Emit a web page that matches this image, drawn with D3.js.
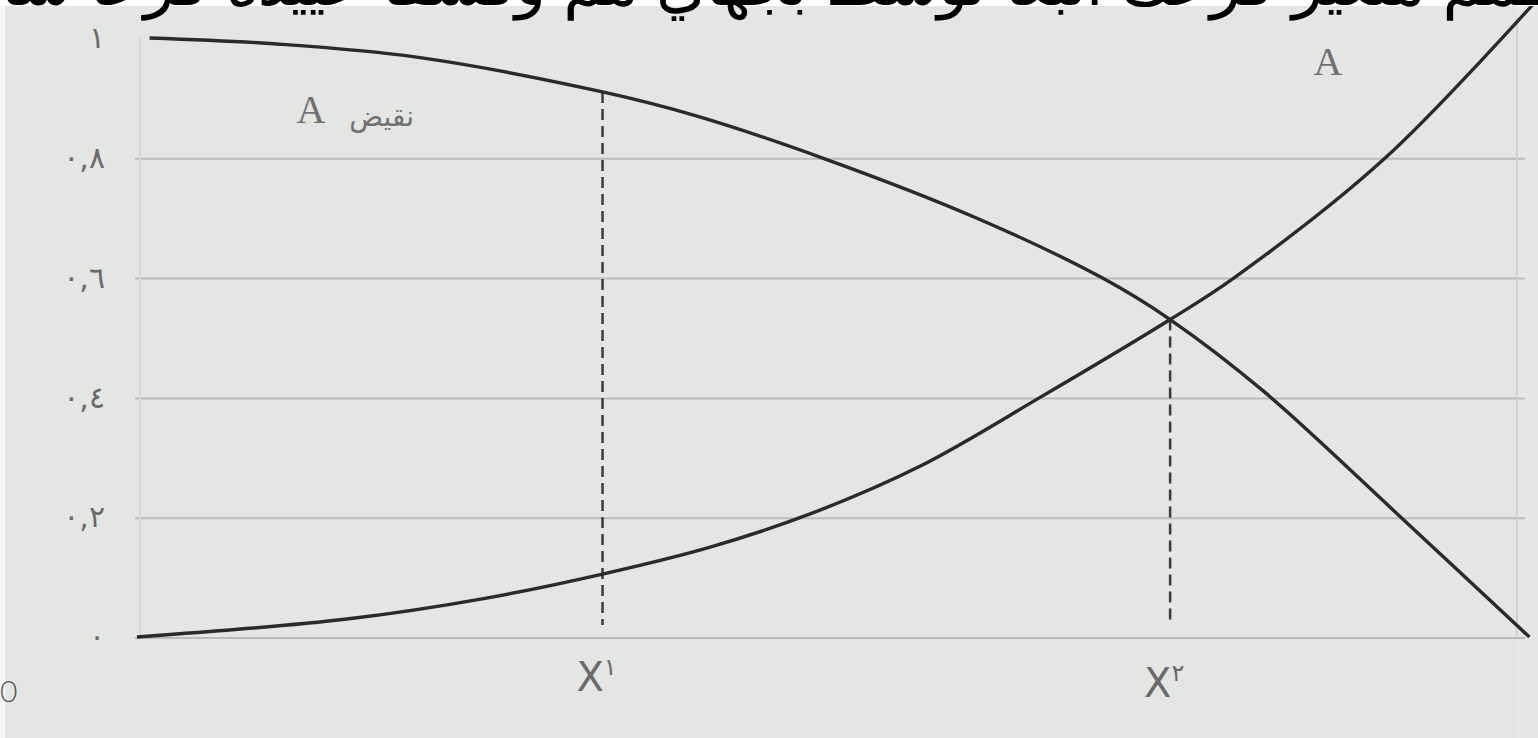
<!DOCTYPE html>
<html>
<head>
<meta charset="utf-8">
<script src="https://cdn.jsdelivr.net/npm/d3@7"></script>
<style>
  html, body { margin: 0; padding: 0; background: #e3e6e2; overflow: hidden; }
  svg { display: block; }
</style>
</head>
<body>
<div id="chart"></div>
<script>
// curve "A" (rising) : x position (0..100 along the axis) and value
const xA = [0, 15, 25, 33.3, 41, 48.1, 56, 64.6, 73.9, 78.5, 89.3, 100];
const valA = [0, 0.03, 0.065, 0.105, 0.15, 0.205, 0.285, 0.40, 0.53, 0.60, 0.80, 1.06];

// curve "نقيض A" (falling)
const xNotA = [0.9, 10, 20, 33.3, 40, 49, 60, 69, 73.9, 80.6, 90.4, 99.6];
const valNotA = [1.0, 0.99, 0.968, 0.91, 0.87, 0.80, 0.70, 0.60, 0.53, 0.41, 0.20, 0.0];

// y ticks and their labels
const yTicks = [0, 0.2, 0.4, 0.6, 0.8, 1];
const yTickLabels = ["٠", "٠,٢", "٠,٤", "٠,٦", "٠,٨", "١"];
const yGrid = [0, 0.2, 0.4, 0.6, 0.8];

// dashed markers X1 and X2
const markX = [33.3, 73.9];
const markTop = [0.91, 0.53];
const markNames = ["X", "X"];
const markSup = ["١", "٢"];

const curveLabels = ["A", "نقيض"];
const topLine = "ـمم متغير فرعك انبعا توسط بجهاي مم وفسفا عييده فرعا سا";

const W = 1538, H = 738;

let svg = d3.select("#chart").append("svg")
    .attr("width", W)
    .attr("height", H);

// paper
svg.append("rect").attr("width", W).attr("height", H).attr("fill", "#e3e6e2");
svg.append("rect").attr("width", 5).attr("height", H).attr("fill", "#f6f6f6");
svg.append("rect").attr("x", 1517).attr("width", W - 1517).attr("height", H).attr("fill", "#e6e8e6");

// scales
let x = d3.scaleLinear().domain([0, 100]).range([137, 1535]);
let y = d3.scaleLinear().domain([0, 1]).range([637, 38]);

// grid lines
svg.append("g").selectAll("line")
    .data(yGrid)
    .join("line")
    .attr("x1", 135)
    .attr("x2", 1525)
    .attr("y1", d => y(d) + 1)
    .attr("y2", d => y(d) + 1)
    .attr("stroke", "#b9bcb8")
    .attr("stroke-width", 2);

// faint frame verticals
svg.append("line").attr("x1", 140).attr("x2", 140).attr("y1", y(1)).attr("y2", y(0))
    .attr("stroke", "#d6d9d5").attr("stroke-width", 2);
svg.append("line").attr("x1", 1517).attr("x2", 1517).attr("y1", y(1) - 20).attr("y2", y(0))
    .attr("stroke", "#cfd2ce").attr("stroke-width", 2);

// y axis labels (arabic digits)
let yAxis = svg.append("g")
    .attr("transform", "translate(137,0)")
    .call(d3.axisLeft(y)
        .tickValues(yTicks)
        .tickSize(0)
        .tickPadding(32)
        .tickFormat((d, i) => yTickLabels[i]));
yAxis.select(".domain").remove();
yAxis.selectAll("text")
    .attr("font-family", "DejaVu Sans")
    .attr("font-size", 30)
    .attr("letter-spacing", 7)
    .attr("fill", "#6a6a6a");

// dashed verticals
svg.append("g").selectAll("line")
    .data(markX)
    .join("line")
    .attr("x1", d => x(d))
    .attr("x2", d => x(d))
    .attr("y1", (d, i) => y(markTop[i]))
    .attr("y2", y(0.02))
    .attr("stroke", "#3a3a3a")
    .attr("stroke-width", 2.5)
    .attr("stroke-dasharray", "11,6");

// curves
const line = d3.line()
    .x(d => x(d[0]))
    .y(d => y(d[1]))
    .curve(d3.curveCatmullRom.alpha(0.5));

svg.append("path")
    .datum(xA.map((d, i) => [d, valA[i]]))
    .attr("d", line)
    .attr("fill", "none")
    .attr("stroke", "#2a2a2a")
    .attr("stroke-width", 3.4);

svg.append("path")
    .datum(xNotA.map((d, i) => [d, valNotA[i]]))
    .attr("d", line)
    .attr("fill", "none")
    .attr("stroke", "#2a2a2a")
    .attr("stroke-width", 3.4);

// curve labels
svg.append("text")
    .attr("x", 1328)
    .attr("y", 75)
    .attr("text-anchor", "middle")
    .attr("font-family", "Liberation Serif")
    .attr("font-size", 40)
    .attr("fill", "#707070")
    .text(curveLabels[0]);

svg.append("text")
    .attr("x", 311)
    .attr("y", 123)
    .attr("text-anchor", "middle")
    .attr("font-family", "Liberation Serif")
    .attr("font-size", 40)
    .attr("fill", "#707070")
    .text(curveLabels[0]);

svg.append("text")
    .attr("x", 414)
    .attr("y", 126)
    .attr("text-anchor", "end")
    .attr("font-family", "DejaVu Sans")
    .attr("font-size", 28)
    .attr("fill", "#707070")
    .text(curveLabels[1]);

// X1, X2 labels under the dashed lines
let xl = svg.append("g").selectAll("text")
    .data(markX)
    .join("text")
    .attr("x", d => x(d) - 6)
    .attr("y", (d, i) => y(0) + 54 + i * 6)
    .attr("text-anchor", "middle")
    .attr("font-family", "DejaVu Sans")
    .attr("font-size", 40)
    .attr("fill", "#6a6a6a");
xl.append("tspan").text((d, i) => markNames[i]);
xl.append("tspan")
    .attr("dy", -16)
    .attr("font-size", 24)
    .text((d, i) => markSup[i]);

// stray origin "0"
svg.append("text")
    .attr("x", 0)
    .attr("y", 702)
    .attr("font-family", "Lato")
    .attr("font-weight", 300)
    .attr("font-size", 30)
    .attr("fill", "#555")
    .text("0");

// cut-off text line at the top of the photo
svg.append("rect").attr("width", W).attr("height", 6).attr("fill", "#ffffff");
svg.append("text")
    .attr("x", 1538)
    .attr("y", 5)
    .attr("text-anchor", "end")
    .attr("font-family", "DejaVu Sans")
    .attr("font-size", 64)
    .attr("fill", "#000")
    .attr("textLength", 1538)
    .attr("lengthAdjust", "spacing")
    .text(topLine);
</script>
</body>
</html>
